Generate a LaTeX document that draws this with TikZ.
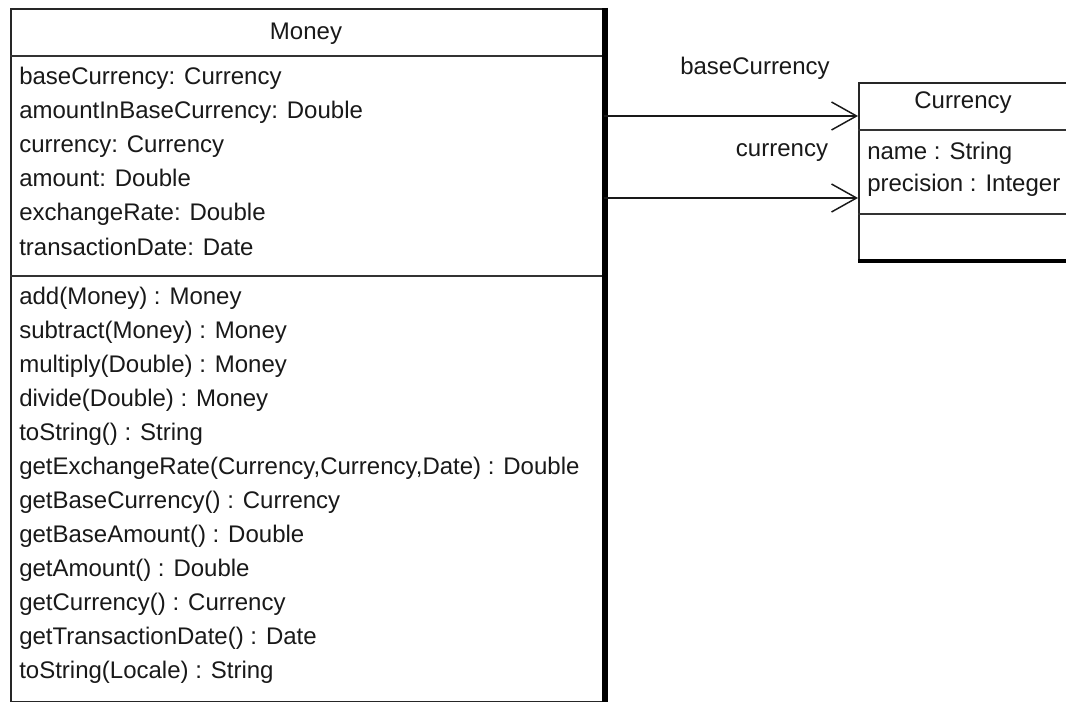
\documentclass[tikz,border=0pt]{standalone}
\usepackage{fontspec}
\setmainfont{Liberation Sans}
\usetikzlibrary{arrows.meta}
\begin{document}
\begin{tikzpicture}[x=0.75pt,y=-0.75pt,
  font=\fontsize{18}{20}\selectfont,
  umlbox/.style={draw=black!85, line width=1.2pt, inner sep=0pt, anchor=north west},
  divider/.style={draw=black!80, line width=1.2pt},
  shadowline/.style={draw=black, line width=4.5pt},
  txt/.style={anchor=base west, inner sep=0pt, text=black!90},
  ttl/.style={anchor=base, inner sep=0pt, text=black!90},
  assoc/.style={draw=black!90, line width=1.1pt, -{Straight Barb[length=18.75pt,width=21pt,line width=1.1pt]}}]
\useasboundingbox (0,0) rectangle (1066,702);
\clip (0,0) rectangle (1066,702);
\fill[white] (0,0) rectangle (1066,702);

% Money class
\node[umlbox, minimum width=444pt, minimum height=519.75pt] (money) at (10,8) {};
\draw[divider] (10,56) -- (602,56);
\draw[divider] (10,276) -- (602,276);
\draw[shadowline] (605,8) -- (605,710);
\node[ttl] (mtitle) at (306,40) {Money};

\foreach \t [count=\i from 0] in {baseCurrency: Currency, amountInBaseCurrency: Double, currency: Currency, amount: Double, exchangeRate: Double, transactionDate: Date}
  \node[txt] (ma\i) at (19,85+34*\i) {\t};

\foreach \t [count=\i from 0] in {add(Money) : Money, subtract(Money) : Money, multiply(Double) : Money, divide(Double) : Money, toString() : String, {getExchangeRate(Currency,Currency,Date) : Double}, getBaseCurrency() : Currency, getBaseAmount() : Double, getAmount() : Double, getCurrency() : Currency, getTransactionDate() : Date, toString(Locale) : String}
  \node[txt] (mm\i) at (19,304+34*\i) {\t};

% Currency class
\node[umlbox, minimum width=159pt, minimum height=132.75pt] (currency) at (858,82) {};
\draw[divider] (858,130) -- (1075,130);
\draw[divider] (858,214) -- (1075,214);
\draw[shadowline, line width=3.2pt] (858,261) -- (1075,261);
\node[ttl] (ctitle) at (963,109) {Currency};
\node[txt] (ca0) at (867,160) {name : String};
\node[txt] (ca1) at (867,192) {precision : Integer};

% associations
\coordinate (y1) at (0,116);
\coordinate (y2) at (0,198);
\draw[assoc] (money.east |- y1) -- (currency.west |- y1);
\draw[assoc] (money.east |- y2) -- (currency.west |- y2);
\node[ttl] (lbase) at (755,75) {baseCurrency};
\node[ttl] (lcur) at (782,157) {currency};
\end{tikzpicture}
\end{document}
